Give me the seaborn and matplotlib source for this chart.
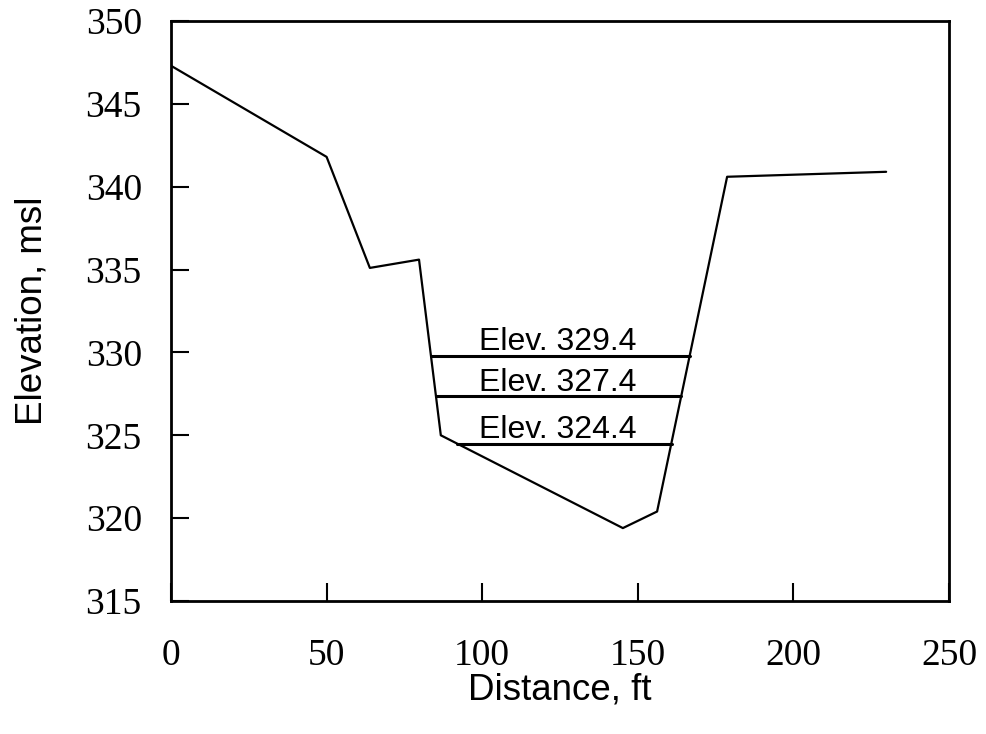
import matplotlib
matplotlib.use("Agg")
import matplotlib.pyplot as plt
import seaborn as sns
import pandas as pd

# Ground profile
distance = [0, 50, 63.9, 79.7, 86.7, 145.2, 156.2, 178.7, 229.8]
elevation = [347.3, 341.8, 335.1, 335.6, 325.0, 319.4, 320.4, 340.6, 340.9]

# Water surface lines
water_labels = ["Elev. 329.4", "Elev. 327.4", "Elev. 324.4"]
water_levels = [329.8, 327.35, 324.5]
water_left = [83.4, 85.3, 91.9]
water_right = [166.7, 163.8, 161.0]
label_x = [124.4, 124.4, 124.4]

x_ticks = [0, 50, 100, 150, 200, 250]
y_ticks = [315, 320, 325, 330, 335, 340, 345, 350]

sns.set_style("white")
plt.rcParams["font.family"] = ["Liberation Sans", "DejaVu Sans"]
plt.rcParams["text.color"] = "black"
plt.rcParams["axes.labelcolor"] = "black"

fig = plt.figure(figsize=(9.87, 7.34), dpi=100)
ax = fig.add_axes([171 / 987, 1 - 601 / 734, 778 / 987, 580 / 734])

df = pd.DataFrame({"Distance": distance, "Elevation": elevation})
sns.lineplot(data=df, x="Distance", y="Elevation", sort=False, color="black",
             linewidth=1.6, ax=ax)

for lab, lev, xl, xr, lx in zip(water_labels, water_levels, water_left, water_right, label_x):
    wdf = pd.DataFrame({"Distance": [xl, xr], "Elevation": [lev, lev]})
    sns.lineplot(data=wdf, x="Distance", y="Elevation", color="black", linewidth=2.2, ax=ax)
    ax.annotate(lab, xy=(lx, lev), xytext=(0, 3.8), textcoords="offset points",
                ha="center", va="baseline", fontsize=23, family="Liberation Sans",
                color="black")

ax.set_xlim(0, 250)
ax.set_ylim(315, 350)
ax.set_xticks(x_ticks)
ax.set_yticks(y_ticks)
ax.set_xticklabels([str(t) for t in x_ticks], family="Liberation Serif", fontsize=27)
ax.set_yticklabels([str(t) for t in y_ticks], family="Liberation Serif", fontsize=27)
ax.tick_params(axis="both", direction="in", length=13, width=1.5, color="black",
               labelcolor="black", bottom=True, left=True, top=False, right=False)
ax.tick_params(axis="x", pad=27)
ax.tick_params(axis="y", pad=21)

for s in ax.spines.values():
    s.set_visible(True)
    s.set_color("black")
    s.set_linewidth(2.0)

ax.set_xlabel("Distance, ft", fontsize=26.5, family="Liberation Sans", labelpad=-0.5,
              color="black")
ax.set_ylabel("Elevation, msl", fontsize=26.5, family="Liberation Sans", labelpad=26,
              color="black")

fig.savefig("out.png", dpi=100, facecolor="white")
